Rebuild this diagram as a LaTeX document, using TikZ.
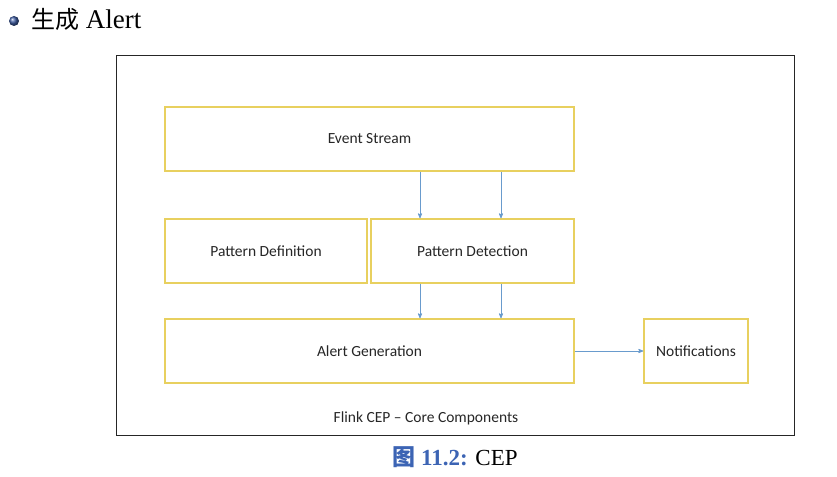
\documentclass[tikz,border=0pt]{standalone}
\usepackage{fontspec}
\setmainfont{Liberation Serif}
\newfontfamily\boxfont{Carlito}
\newfontfamily\cjk{Noto Sans CJK SC}
\usetikzlibrary{arrows, positioning, shadings}
\definecolor{my_yellow}{RGB}{232, 208, 95}
\definecolor{my_blue}{RGB}{105, 155, 205}
\definecolor{my_capblue}{RGB}{60, 100, 180}
\definecolor{my_ball}{RGB}{60, 90, 160}
\tikzset {
  box/.style = {draw=my_yellow, line width=1.5pt, rectangle, fill=white, outer sep=0pt, minimum height=64pt, text=black!85, font=\boxfont\fontsize{15.5}{18}\selectfont},
  frame/.style = {draw=black!85, line width=1pt, rectangle, minimum width=678pt, minimum height=379pt},
  line/.style = {->, line width=0.8pt, color=my_blue, shorten <=0.75pt, shorten >=0.75pt, >=stealth'},
  plain/.style = {inner sep=0pt}
}

\begin{document}
\begin{tikzpicture}[x=1pt, y=1pt]
    \useasboundingbox (0,0) rectangle (837,-476);

    % heading
    \shade[ball color=my_ball] (14,-21) circle (5);
    \node[plain, anchor=west, font=\fontsize{27}{30}\selectfont] (title) at (31,-19) {{\cjk\fontsize{24}{28}\selectfont 生成} Alert};

    \node[frame, name=frame] (frame) at (455,-245.5) {};

    \node[box, minimum width=409pt, name=event] (event) at (369.5,-139) {Event Stream};
    \node[box, minimum width=202pt, name=patdef, below right = 48pt and 0pt of event.south west] (patdef) {Pattern Definition};
    \node[box, minimum width=203pt, name=patdet, right = 4pt of patdef] (patdet) {Pattern Detection};
    \node[box, minimum width=409pt, name=alert, below right = 36pt and 0pt of patdef.south west] (alert) {Alert Generation};
    \node[box, minimum width=104pt, name=notify, right = 70pt of alert] (notify) {Notifications};
    \node[plain, font=\boxfont\fontsize{15.5}{18}\selectfont, text=black!85] (label) at (426,-418) {Flink CEP – Core Components};

    \node[plain, font=\fontsize{23}{27}\selectfont] (figcap) at (455,-457) {\textcolor{my_capblue}{\bfseries{\cjk 图} 11.2:} CEP};

    \coordinate (left) at ([xshift=-52.5pt]patdet.north);
    \coordinate (right) at ([xshift=28.5pt]patdet.north);

    \draw[line, ->] (left |- event.south) -- (left);
    \draw[line, ->] (right |- event.south) -- (right);
    \draw[line, ->] (left |- patdet.south) -- (left |- alert.north);
    \draw[line, ->] (right |- patdet.south) -- (right |- alert.north);
    \draw[line, ->] (alert.east) -- (notify.west);

\end{tikzpicture}
\end{document}
